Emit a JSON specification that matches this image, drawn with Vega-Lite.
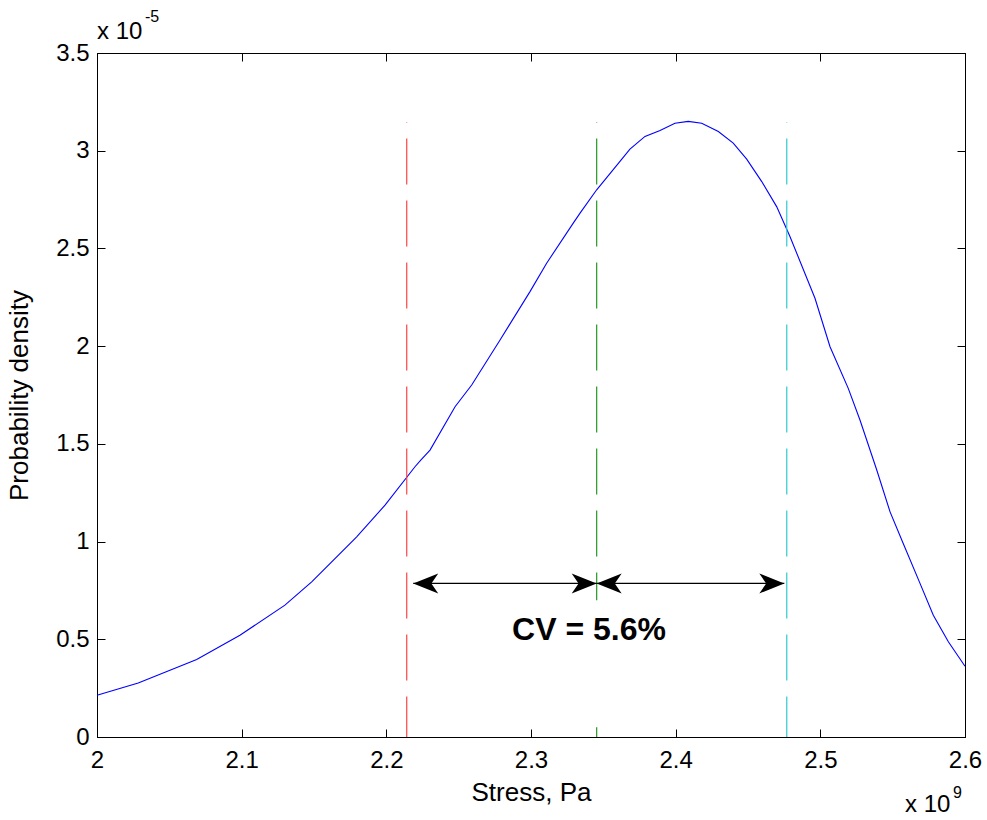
{
  "$schema": "https://vega.github.io/schema/vega-lite/v6.json",
  "width": 868,
  "height": 684,
  "autosize": {"type": "none"},
  "padding": {"left": 97, "top": 53, "right": 22, "bottom": 83},
  "background": "white",
  "config": {
    "view": {"stroke": "black", "strokeWidth": 1},
    "font": "Liberation Sans",
    "axis": {
      "labelFont": "Liberation Sans",
      "labelFontSize": 24,
      "labelColor": "black",
      "titleFont": "Liberation Sans",
      "titleFontSize": 26,
      "titleFontWeight": "normal",
      "titleColor": "black",
      "tickColor": "black",
      "domainColor": "black",
      "tickSize": -8,
      "grid": false,
      "labelFlush": false,
      "labelOverlap": false
    }
  },
  "datasets": {
    "curve": [
      {"stress": 2.0, "density": 0.214},
      {"stress": 2.0285, "density": 0.2766},
      {"stress": 2.0689, "density": 0.3964},
      {"stress": 2.0988, "density": 0.5208},
      {"stress": 2.1299, "density": 0.6745},
      {"stress": 2.1484, "density": 0.7938},
      {"stress": 2.1795, "density": 1.0243},
      {"stress": 2.1991, "density": 1.1865},
      {"stress": 2.2198, "density": 1.3828},
      {"stress": 2.2238, "density": 1.4171},
      {"stress": 2.2302, "density": 1.4683},
      {"stress": 2.2475, "density": 1.69},
      {"stress": 2.259, "density": 1.801},
      {"stress": 2.2786, "density": 2.0316},
      {"stress": 2.2993, "density": 2.279},
      {"stress": 2.3108, "density": 2.4244},
      {"stress": 2.3292, "density": 2.6293},
      {"stress": 2.3339, "density": 2.6805},
      {"stress": 2.3454, "density": 2.8},
      {"stress": 2.3615, "density": 2.945},
      {"stress": 2.3684, "density": 3.008},
      {"stress": 2.3788, "density": 3.073},
      {"stress": 2.3892, "density": 3.104},
      {"stress": 2.3995, "density": 3.141},
      {"stress": 2.4087, "density": 3.15},
      {"stress": 2.418, "density": 3.141},
      {"stress": 2.4295, "density": 3.098},
      {"stress": 2.4398, "density": 3.039},
      {"stress": 2.4491, "density": 2.957},
      {"stress": 2.4595, "density": 2.842},
      {"stress": 2.4698, "density": 2.714},
      {"stress": 2.479, "density": 2.561},
      {"stress": 2.4963, "density": 2.245},
      {"stress": 2.5067, "density": 1.997},
      {"stress": 2.5193, "density": 1.784},
      {"stress": 2.5274, "density": 1.622},
      {"stress": 2.539, "density": 1.366},
      {"stress": 2.5482, "density": 1.152},
      {"stress": 2.5573, "density": 0.99},
      {"stress": 2.5689, "density": 0.786},
      {"stress": 2.5781, "density": 0.623},
      {"stress": 2.5885, "density": 0.487},
      {"stress": 2.6, "density": 0.362}
    ],
    "vlines": [
      {"line": "mean - sd", "stress": 2.2141, "top": 3.147},
      {"line": "mean", "stress": 2.3454, "top": 3.147},
      {"line": "mean + sd", "stress": 2.4768, "top": 3.147}
    ],
    "arrows": [
      {"from": 2.2186, "to": 2.3454, "level": 0.7856},
      {"from": 2.3454, "to": 2.4751, "level": 0.7856}
    ],
    "heads": [
      {"stress": 2.2186, "level": 0.7856, "dir": "left"},
      {"stress": 2.3454, "level": 0.7856, "dir": "right"},
      {"stress": 2.3454, "level": 0.7856, "dir": "left"},
      {"stress": 2.4751, "level": 0.7856, "dir": "right"}
    ],
    "labels": [
      {"label": "CV = 5.6%", "stress": 2.3401, "level": 0.4988}
    ]
  },
  "layer": [
    {
      "data": {"name": "curve"},
      "mark": {"type": "line", "color": "#0000ff", "strokeWidth": 1.1},
      "encoding": {
        "x": {
          "field": "stress", "type": "quantitative",
          "scale": {"domain": [2, 2.6], "nice": false, "zero": false},
          "axis": {"orient": "bottom", "values": [2, 2.1, 2.2, 2.3, 2.4, 2.5, 2.6], "format": "~g", "title": "Stress, Pa", "labelPadding": 19, "titlePadding": 7}
        },
        "y": {
          "field": "density", "type": "quantitative",
          "scale": {"domain": [0, 3.5], "nice": false, "zero": false},
          "axis": {"orient": "left", "values": [0, 0.5, 1, 1.5, 2, 2.5, 3, 3.5], "format": "~g", "title": "Probability density", "labelPadding": 16, "titlePadding": 23}
        }
      }
    },
    {
      "data": {"name": "vlines"},
      "mark": {"type": "rule", "strokeWidth": 1.2, "strokeDash": [46, 16], "strokeDashOffset": 45.5},
      "encoding": {
        "x": {
          "field": "stress", "type": "quantitative",
          "scale": {"domain": [2, 2.6], "nice": false, "zero": false},
          "axis": {"orient": "top", "values": [2, 2.1, 2.2, 2.3, 2.4, 2.5, 2.6], "labels": false, "title": null}
        },
        "y": {
          "field": "top", "type": "quantitative",
          "scale": {"domain": [0, 3.5], "nice": false, "zero": false},
          "axis": {"orient": "right", "values": [0, 0.5, 1, 1.5, 2, 2.5, 3, 3.5], "labels": false, "title": null}
        },
        "y2": {"datum": 0},
        "color": {
          "field": "line", "type": "nominal",
          "scale": {"domain": ["mean - sd", "mean", "mean + sd"], "range": ["#ff4444", "#229922", "#2ccccc"]},
          "legend": null
        }
      }
    },
    {
      "data": {"values": [{}]},
      "mark": {"type": "rect", "fill": "white"},
      "encoding": {
        "x": {"datum": 2.28, "type": "quantitative", "axis": null},
        "x2": {"datum": 2.40},
        "y": {"datum": 0.05, "type": "quantitative", "axis": null},
        "y2": {"datum": 0.70}
      }
    },
    {
      "data": {"name": "arrows"},
      "mark": {"type": "rule", "color": "black", "strokeWidth": 1.3},
      "encoding": {
        "x": {"field": "from", "type": "quantitative", "axis": null},
        "x2": {"field": "to"},
        "y": {"field": "level", "type": "quantitative", "axis": null}
      }
    },
    {
      "data": {"name": "heads"},
      "mark": {"type": "point", "filled": true, "color": "black", "opacity": 1, "size": 625, "strokeWidth": 0},
      "encoding": {
        "x": {"field": "stress", "type": "quantitative", "axis": null},
        "y": {"field": "level", "type": "quantitative", "axis": null},
        "shape": {
          "field": "dir", "type": "nominal",
          "scale": {"domain": ["left", "right"], "range": ["M0,0L2,-0.8L1.45,0L2,0.8Z", "M0,0L-2,-0.8L-1.45,0L-2,0.8Z"]},
          "legend": null
        }
      }
    },
    {
      "data": {"name": "labels"},
      "mark": {"type": "text", "font": "Liberation Sans", "fontSize": 32, "fontWeight": "bold", "align": "center", "baseline": "alphabetic", "color": "black"},
      "encoding": {
        "x": {"field": "stress", "type": "quantitative", "axis": null},
        "y": {"field": "level", "type": "quantitative", "axis": null},
        "text": {"field": "label"}
      }
    },
    {
      "data": {"values": [{}]},
      "mark": {"type": "text", "text": "x 10", "font": "Liberation Sans", "fontSize": 24, "align": "left", "baseline": "alphabetic", "dx": 0, "dy": -14, "color": "black"},
      "encoding": {
        "x": {"datum": 2.0, "type": "quantitative", "axis": null},
        "y": {"datum": 3.5, "type": "quantitative", "axis": null}
      }
    },
    {
      "data": {"values": [{}]},
      "mark": {"type": "text", "text": "-5", "font": "Liberation Sans", "fontSize": 16, "align": "left", "baseline": "alphabetic", "dx": 48, "dy": -31, "color": "black"},
      "encoding": {
        "x": {"datum": 2.0, "type": "quantitative", "axis": null},
        "y": {"datum": 3.5, "type": "quantitative", "axis": null}
      }
    },
    {
      "data": {"values": [{}]},
      "mark": {"type": "text", "text": "x 10", "font": "Liberation Sans", "fontSize": 24, "align": "left", "baseline": "alphabetic", "dx": -60, "dy": 75, "color": "black"},
      "encoding": {
        "x": {"datum": 2.6, "type": "quantitative", "axis": null},
        "y": {"datum": 0, "type": "quantitative", "axis": null}
      }
    },
    {
      "data": {"values": [{}]},
      "mark": {"type": "text", "text": "9", "font": "Liberation Sans", "fontSize": 16, "align": "left", "baseline": "alphabetic", "dx": -12, "dy": 61, "color": "black"},
      "encoding": {
        "x": {"datum": 2.6, "type": "quantitative", "axis": null},
        "y": {"datum": 0, "type": "quantitative", "axis": null}
      }
    }
  ],
  "resolve": {"axis": {"x": "independent", "y": "independent"}}
}
